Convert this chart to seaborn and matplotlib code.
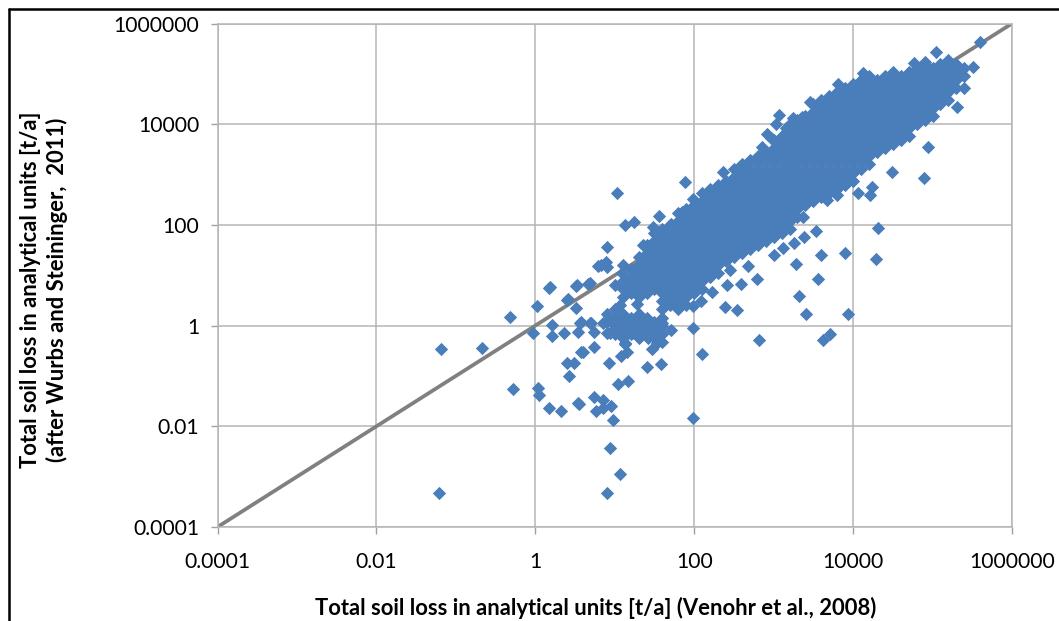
import numpy as np
import pandas as pd
import matplotlib
matplotlib.use('Agg')
import matplotlib.pyplot as plt
from matplotlib.lines import Line2D
import seaborn as sns

tick_values = [0.0001, 0.01, 1, 100, 10000, 1000000]
tick_labels = ['0.0001', '0.01', '1', '100', '10000', '1000000']
line_x = [0.0001, 1000000]
line_y = [0.0001, 1000000]

# scattered points as log10(t/a)
outlier_lx = [-1.21, -1.19, -0.67, -0.32, -0.28, -0.03, 0.02, 0.03, 0.05, 0.17, 0.32, 0.54, 0.76, 0.74,
              0.21, 0.21, 0.36, 0.54, 0.58, 0.70, 0.74, 0.74, 0.58, 0.60, 0.40, 0.49, 0.43, 0.40, 0.51,
              0.17, 0.51, 0.69, 0.41, 0.83, 0.89, 1.03, 1.13, 1.24, 1.88, 1.56, 0.90, 0.79, 0.90, 0.19,
              0.52, 0.66, 1.13, 1.35, 1.48, 1.10, 1.09, 1.71, 1.85, 1.98, 1.71, 1.98, 1.98, 0.94, 1.07,
              0.90, 0.98, 0.95, 0.85, 0.55, 0.85, 1.04, 1.17, 0.93, 1.08, 1.15, 1.13, 1.47, 1.53, 1.58,
              1.42, 1.41, 1.22, 0.94, 1.59, 1.17, 0.85, 0.69, 0.56, 2.10, 1.58]
outlier_ly = [-3.32, -0.46, -0.45, 0.17, -1.26, -0.15, 0.39, -1.24, -1.38, -1.64, -1.70, -1.54, -1.70, -1.42,
              0.02, -0.21, -0.15, -0.13, 0.07, 0.05, -0.13, -0.43, -0.53, -0.53, -0.74, -0.74, -1.00, 0.51, 0.35,
              0.75, 0.79, 0.85, 0.53, 1.20, 1.26, 2.63, 2.00, 2.06, 2.85, 2.18, 1.56, 1.18, 1.16, 0.77,
              0.81, 0.83, -0.35, 1.60, 1.96, 1.20, 1.05, 2.02, 2.26, 2.51, -0.09, -0.05, -1.83, -2.43, -2.95,
              -3.32, -1.87, -1.60, -1.48, -1.56, -1.64, -1.16, -1.10, -0.74, -0.60, -0.52, -0.37, -0.46, -0.34, -0.17,
              -0.25, -0.09, -0.14, -0.14, 0.05, 0.01, 0.05, 0.05, 0.05, -0.56, -0.76]
right_lx = [4.31, 4.29, 3.90, 3.59, 3.28, 3.56, 3.32, 3.94, 3.41, 3.71, 3.62, 2.82, 1.41, 2.39, 2.54, 2.41,
            2.59, 2.79, 2.23, 2.45, 2.09, 1.98, 2.68, 3.00, 3.12, 3.25, 3.38, 3.53, 3.37, 3.67, 3.80, 4.06,
            4.21, 4.24, 5.60, 5.04, 5.51, 5.40, 5.31, 4.94, 4.49, 4.89, 4.13, 3.81, 3.99, 3.46, 3.07, 3.03,
            3.36, 2.92, 4.77, 4.91, 2.36, 2.60, 2.85, 2.97, 3.15, 3.24, 1.07, 1.28]
right_ly = [1.94, 1.32, 1.44, 1.41, 1.22, 0.93, 0.59, 0.23, 0.23, -0.17, -0.29, -0.29, -0.82, 0.37, 0.31, 0.81,
            0.83, 0.93, 0.67, 1.10, 0.49, 0.39, 1.18, 1.40, 1.55, 1.64, 1.76, 1.87, 2.16, 2.50, 2.60, 2.63,
            2.60, 2.75, 5.63, 5.43, 5.14, 4.72, 4.34, 3.55, 3.05, 2.94, 5.02, 4.80, 4.76, 4.44, 4.18, 4.01,
            4.15, 3.81, 5.22, 5.24, 3.05, 3.19, 3.55, 3.72, 3.92, 4.12, 0.40, 0.42]

# dense cloud, one list of log10(y) per log10(x) column
core_lx = [0.9, 1.0, 1.1, 1.2, 1.3, 1.4, 1.5, 1.6, 1.7, 1.8, 1.9, 2.0, 2.1, 2.2, 2.3, 2.4, 2.5, 2.6, 2.7, 2.8,
           2.9, 3.0, 3.1, 3.2, 3.3, 3.4, 3.5, 3.6, 3.7, 3.8, 3.9, 4.0, 4.1, 4.2, 4.3, 4.4, 4.5, 4.6, 4.7, 4.8,
           4.9, 5.0, 5.1, 5.2, 5.3, 5.4]
core_ly = [
    [-0.14, 0.08, 0.24],
    [-0.16, 0.0, 0.16, 0.32, 0.8],
    [-0.24, -0.08, 0.08, 0.24, 0.56, 0.72, 0.88],
    [-0.16, 0.0, 0.16, 0.64, 0.8, 0.96, 1.12],
    [-0.24, -0.08, 0.08, 0.24, 0.56, 0.72, 0.88, 1.04, 1.2, 1.36],
    [-0.16, 0.0, 0.16, 0.64, 0.8, 0.96, 1.12, 1.28, 1.44, 1.6],
    [-0.24, -0.08, 0.08, 0.72, 0.88, 1.04, 1.2, 1.36, 1.52, 1.68, 1.84],
    [-0.32, -0.16, 0.0, 0.16, 0.32, 0.48, 0.64, 0.8, 0.96, 1.12, 1.28, 1.44, 1.6, 1.76, 1.92],
    [0.4, 0.56, 0.72, 0.88, 1.04, 1.2, 1.36, 1.52, 1.68, 1.84, 2.0],
    [0.32, 0.48, 0.64, 0.8, 0.96, 1.12, 1.28, 1.44, 1.6, 1.76, 1.92, 2.08, 2.24],
    [0.4, 0.56, 0.72, 0.88, 1.04, 1.2, 1.36, 1.52, 1.68, 1.84, 2.0, 2.16, 2.32],
    [0.64, 0.8, 0.96, 1.12, 1.28, 1.44, 1.6, 1.76, 1.92, 2.08, 2.24, 2.4],
    [0.72, 0.88, 1.04, 1.2, 1.36, 1.52, 1.68, 1.84, 2.0, 2.16, 2.32, 2.48, 2.64],
    [0.96, 1.12, 1.28, 1.44, 1.6, 1.76, 1.92, 2.08, 2.24, 2.4, 2.56, 2.72],
    [1.04, 1.2, 1.36, 1.52, 1.68, 1.84, 2.0, 2.16, 2.32, 2.48, 2.64, 2.8],
    [1.28, 1.44, 1.6, 1.76, 1.92, 2.08, 2.24, 2.4, 2.56, 2.72, 2.88],
    [1.36, 1.52, 1.68, 1.84, 2.0, 2.16, 2.32, 2.48, 2.64, 2.8, 2.96, 3.12],
    [1.44, 1.6, 1.76, 1.92, 2.08, 2.24, 2.4, 2.56, 2.72, 2.88, 3.04, 3.2],
    [1.52, 1.68, 1.84, 2.0, 2.16, 2.32, 2.48, 2.64, 2.8, 2.96, 3.12, 3.28],
    [1.6, 1.76, 1.92, 2.08, 2.24, 2.4, 2.56, 2.72, 2.88, 3.04, 3.2, 3.36],
    [1.68, 1.84, 2.0, 2.16, 2.32, 2.48, 2.64, 2.8, 2.96, 3.12, 3.28, 3.44],
    [1.76, 1.92, 2.08, 2.24, 2.4, 2.56, 2.72, 2.88, 3.04, 3.2, 3.36, 3.52, 3.68],
    [1.84, 2.0, 2.16, 2.32, 2.48, 2.64, 2.8, 2.96, 3.12, 3.28, 3.44, 3.6, 3.76],
    [1.92, 2.08, 2.24, 2.4, 2.56, 2.72, 2.88, 3.04, 3.2, 3.36, 3.52, 3.68, 3.84, 4.0],
    [2.16, 2.32, 2.48, 2.64, 2.8, 2.96, 3.12, 3.28, 3.44, 3.6, 3.76, 3.92, 4.08],
    [2.4, 2.56, 2.72, 2.88, 3.04, 3.2, 3.36, 3.52, 3.68, 3.84, 4.0, 4.16],
    [2.48, 2.64, 2.8, 2.96, 3.12, 3.28, 3.44, 3.6, 3.76, 3.92, 4.08, 4.24, 4.4],
    [2.56, 2.72, 2.88, 3.04, 3.2, 3.36, 3.52, 3.68, 3.84, 4.0, 4.16, 4.32, 4.48],
    [2.64, 2.8, 2.96, 3.12, 3.28, 3.44, 3.6, 3.76, 3.92, 4.08, 4.24, 4.4, 4.56],
    [2.72, 2.88, 3.04, 3.2, 3.36, 3.52, 3.68, 3.84, 4.0, 4.16, 4.32, 4.48, 4.64],
    [2.8, 2.96, 3.12, 3.28, 3.44, 3.6, 3.76, 3.92, 4.08, 4.24, 4.4, 4.56, 4.72],
    [2.88, 3.04, 3.2, 3.36, 3.52, 3.68, 3.84, 4.0, 4.16, 4.32, 4.48, 4.64, 4.8],
    [3.12, 3.28, 3.44, 3.6, 3.76, 3.92, 4.08, 4.24, 4.4, 4.56, 4.72, 4.88],
    [3.2, 3.36, 3.52, 3.68, 3.84, 4.0, 4.16, 4.32, 4.48, 4.64, 4.8, 4.96],
    [3.44, 3.6, 3.76, 3.92, 4.08, 4.24, 4.4, 4.56, 4.72, 4.88],
    [3.52, 3.68, 3.84, 4.0, 4.16, 4.32, 4.48, 4.64, 4.8, 4.96],
    [3.6, 3.76, 3.92, 4.08, 4.24, 4.4, 4.56, 4.72, 4.88, 5.04],
    [3.68, 3.84, 4.0, 4.16, 4.32, 4.48, 4.64, 4.8, 4.96],
    [3.76, 3.92, 4.08, 4.24, 4.4, 4.56, 4.72, 4.88, 5.04],
    [4.0, 4.16, 4.32, 4.48, 4.64, 4.8, 4.96, 5.12],
    [4.08, 4.24, 4.4, 4.56, 4.72, 4.88, 5.04, 5.2],
    [4.16, 4.32, 4.48, 4.64, 4.8, 4.96, 5.12],
    [4.4, 4.56, 4.72, 4.88, 5.04, 5.2],
    [4.48, 4.64, 4.8, 4.96, 5.12, 5.28],
    [4.72, 4.88, 5.04, 5.2],
    [4.96, 5.12],
]

core = pd.DataFrame({'lx': core_lx, 'ly': core_ly}).explode('ly')
df = pd.concat([
    core,
    pd.DataFrame({'lx': outlier_lx, 'ly': outlier_ly}),
    pd.DataFrame({'lx': right_lx, 'ly': right_ly}),
], ignore_index=True)
df['x'] = 10 ** df['lx'].astype(float)
df['y'] = 10 ** df['ly'].astype(float)

sns.set_theme(style='white')
plt.rcParams['font.family'] = ['Lato', 'DejaVu Sans']

fig = plt.figure(figsize=(10.59, 6.21), dpi=100)
ax = fig.add_axes([217.5 / 1059, 94 / 621, 794.5 / 1059, 503.5 / 621])

sns.lineplot(x=line_x, y=line_y, color='#808080', linewidth=2.7, ax=ax, zorder=2)
sns.scatterplot(data=df, x='x', y='y', marker='D', s=46, color='#4a7ebb', linewidth=0, ax=ax, zorder=3, clip_on=False)

ax.set_xscale('log')
ax.set_yscale('log')
ax.set_xlim(0.0001, 1000000)
ax.set_ylim(0.0001, 1000000)
ax.set_xticks(tick_values, tick_labels)
ax.set_yticks(tick_values, tick_labels)
ax.minorticks_off()
ax.grid(True, color='#b5b5b5', linewidth=1.1)
ax.set_axisbelow(True)
for side in ax.spines:
    ax.spines[side].set_color('#b5b5b5')
    ax.spines[side].set_linewidth(1.1)
ax.tick_params(axis='both', length=5, width=1.0, color='#a0a0a0', labelsize=15.2, labelcolor='black', left=True, bottom=True)
ax.tick_params(axis='x', pad=13)
ax.tick_params(axis='y', pad=8)
ax.set_xlabel('')
ax.set_ylabel('')

fig.text(596 / 1059, 1 - 608 / 621, 'Total soil loss in analytical units [t/a] (Venohr et al., 2008)',
         ha='center', va='center', fontsize=15.8, fontweight='bold', color='black')
fig.text(44 / 1059, 1 - 290 / 621, 'Total soil loss in analytical units [t/a]\n(after Wurbs and Steininger,  2011)',
         ha='center', va='center', rotation=90, multialignment='center', fontsize=15.8, fontweight='bold',
         color='black', linespacing=1.25)

# black frame of the pasted picture, top and left only
fig.add_artist(Line2D([9 / 1059, 1], [1 - 9 / 621, 1 - 9 / 621], color='black', linewidth=1.8))
fig.add_artist(Line2D([9 / 1059, 9 / 1059], [0, 1 - 9 / 621], color='black', linewidth=1.8))

fig.savefig('out.png', dpi=100)
